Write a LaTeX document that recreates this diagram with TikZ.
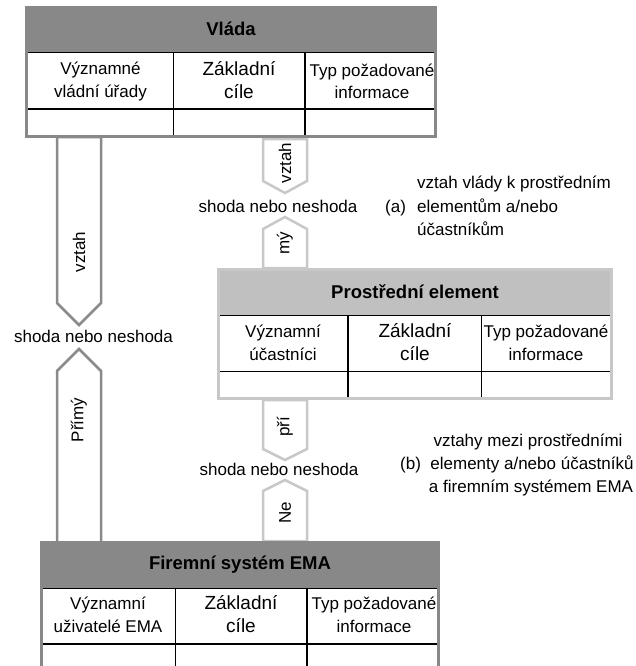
\documentclass[tikz,border=0pt]{standalone}
\usepackage{fontspec}
\setmainfont{Liberation Sans}
\definecolor{framedark}{HTML}{888888}
\definecolor{framelight}{HTML}{C8C8C8}
\definecolor{headlight}{HTML}{C0C0C0}
\definecolor{arrowdark}{HTML}{8A8A8A}
\definecolor{arrowlight}{HTML}{C8C8C8}
\begin{document}
\begin{tikzpicture}[x=1pt,y=-1pt,
  txt/.style={font=\fontsize{17}{22.5}\selectfont, inner sep=0pt, align=center},
  bigtxt/.style={font=\fontsize{19}{23}\selectfont, inner sep=0pt, align=center},
  ttl/.style={font=\fontsize{18.5}{22}\selectfont\bfseries, inner sep=0pt},
  rot/.style={txt, rotate=90},
  bigarrow/.style={draw=arrowdark, line width=2.5pt, fill=white, line join=miter},
  smallarrow/.style={draw=arrowlight, line width=2.5pt, fill=white, line join=miter},
  thinrule/.style={line width=1pt},
  thickrule/.style={line width=2pt}]
\useasboundingbox (0,0) rectangle (636,666);
\clip (0,0) rectangle (636,666);

% ---- block arrows (drawn first, boxes overlap their ends) ----
% direct link, left
\draw[bigarrow] (57,137) -- (101,137) -- (101,303) -- (79,325) -- (57,303) -- cycle;
\node[rot] (lvztah) at (79,252) {vztah};
\node[txt] (lshoda) at (93.5,336) {shoda nebo neshoda};
\draw[bigarrow] (57,543) -- (57,371) -- (79,349) -- (101,371) -- (101,543) -- cycle;
\node[rot] (lprimy) at (79,420) {Přímý};

% government -> intermediate
\draw[smallarrow] (263,139) -- (307,139) -- (307,181) -- (285,193) -- (263,181) -- cycle;
\node[rot] (avztah) at (285,163) {vztah};
\node[txt] (ashoda) at (278,206) {shoda nebo neshoda};
\draw[smallarrow] (263,268) -- (263,229) -- (285,217) -- (307,229) -- (307,268) -- cycle;
\node[rot] (amy) at (285,243) {mý};

% intermediate -> company
\draw[smallarrow] (263,400) -- (307,400) -- (307,449) -- (285,460) -- (263,449) -- cycle;
\node[rot] (bpri) at (285,427) {pří};
\node[txt] (bshoda) at (279,469) {shoda nebo neshoda};
\draw[smallarrow] (263,541) -- (263,491) -- (285,480) -- (307,491) -- (307,541) -- cycle;
\node[rot] (bne) at (285,513) {Ne};

% ---- Vláda ----
\fill[framedark] (25,6) rectangle (437,138);
\fill[white] (28,53) rectangle (434,135);
\draw[thinrule] (28,53) -- (434,53);
\draw[thickrule] (28,109) -- (434,109);
\draw[thinrule] (173,53) -- (173,135);
\draw[thickrule] (305,53) -- (305,135);
\node[ttl] (vlada) at (231,29) {Vláda};
\node[txt] (vc1) at (100.5,81.5) {Významné\\vládní úřady};
\node[bigtxt] (vc2) at (239,80) {Základní\\cíle};
\node[txt] (vc3) at (372,81.5) {Typ požadované\\informace};

% ---- Prostřední element ----
\fill[framelight] (217,268) rectangle (613,400);
\fill[headlight] (220,271) rectangle (610,315);
\fill[white] (220,315) rectangle (610,397);
\draw[thinrule] (220,315) -- (610,315);
\draw[thinrule] (220,371) -- (610,371);
\draw[thickrule] (348,315) -- (348,397);
\draw[thinrule] (481,315) -- (481,397);
\node[ttl] (prost) at (415,292) {Prostřední element};
\node[txt] (pc1) at (283,343) {Významní\\účastníci};
\node[bigtxt] (pc2) at (415,342) {Základní\\cíle};
\node[txt] (pc3) at (546,343) {Typ požadované\\informace};

% ---- Firemní systém EMA ----
\fill[framedark] (40,541) rectangle (440,690);
\fill[white] (43,588) rectangle (437,687);
\draw[thinrule] (43,588) -- (437,588);
\draw[thickrule] (43,644) -- (437,644);
\draw[thinrule] (175,588) -- (175,687);
\draw[thickrule] (307,588) -- (307,687);
\node[ttl] (firma) at (240,565) {Firemní systém EMA};
\node[txt] (fc1) at (108,615) {Významní\\uživatelé EMA};
\node[bigtxt] (fc2) at (241,614) {Základní\\cíle};
\node[txt] (fc3) at (374,615) {Typ požadované\\informace};

% ---- notes ----
\node[txt, anchor=base west] (alab) at (385,212) {(a)};
\node[txt, anchor=base west] (aline1) at (417,188) {vztah vlády k prostředním};
\node[txt, anchor=base west] (aline2) at (417,212) {elementům a/nebo};
\node[txt, anchor=base west] (aline3) at (417,235) {účastníkům};

\node[txt, anchor=base] (bline1) at (528,446) {vztahy mezi prostředními};
\node[txt, anchor=base west] (blab) at (400,469) {(b)};
\node[txt, anchor=base] (bline2) at (532,469) {elementy a/nebo účastníků};
\node[txt, anchor=base] (bline3) at (531,492) {a firemním systémem EMA};
\end{tikzpicture}
\end{document}
